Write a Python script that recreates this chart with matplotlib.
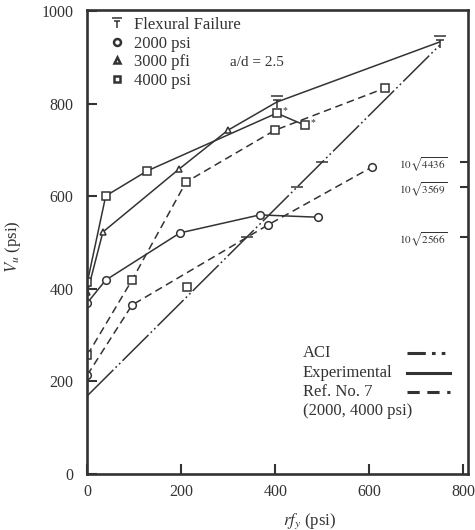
import numpy as np
import matplotlib.pyplot as plt
from matplotlib.path import Path
from matplotlib.lines import Line2D

plt.rcParams['font.family'] = ['Liberation Serif', 'DejaVu Serif']
plt.rcParams['mathtext.fontset'] = 'stix'

# experimental results (solid lines)
exp_2000_x = [0, 39, 197, 367, 490]
exp_2000_y = [370, 419, 521, 560, 555]
exp_3000_x = [0, 33, 195, 299, 403, 750]
exp_3000_y = [393, 523, 659, 743, 804, 934]
exp_4000_x = [0, 39, 127, 403, 463]
exp_4000_y = [415, 601, 655, 780, 754]

# Ref. No. 7 (dashed lines)
ref_2000_x = [0, 95, 384, 605]
ref_2000_y = [214, 365, 538, 663]
ref_4000_x = [0, 95, 210, 399, 633]
ref_4000_y = [257, 419, 631, 743, 834]
stray_x = [212]
stray_y = [404]

# ACI line and its upper limits 10*sqrt(f'c)
aci_x = [0, 750]
aci_y = [169, 927]
cap_levels = [674, 620, 512]
cap_labels = [r'$10\sqrt{4436}$', r'$10\sqrt{3569}$', r'$10\sqrt{2566}$']

# flexural failures
flex_x = [403, 750]
flex_y = [804, 934]
star_x = [403, 463]
star_y = [780, 754]

ink = '#333333'
flex_marker = Path([(-1, 1), (1, 1), (-0.7, 0.4), (0.7, 0.4), (0, 0.4), (0, -1)],
                   [Path.MOVETO, Path.LINETO, Path.MOVETO, Path.LINETO, Path.MOVETO, Path.LINETO])
aci_dash = (24, 2, 1.2, 2, 1.2, 2)
ref_dash = (5, 3)

fig = plt.figure(figsize=(4.75, 5.3), dpi=100)
ax = fig.add_axes([0.184, 0.106, 0.801, 0.875])

lw = 1.1
mk = dict(markerfacecolor='white', markeredgecolor=ink, markeredgewidth=1.1)

ax.plot(aci_x, aci_y, color=ink, lw=lw, dashes=aci_dash)
cap_x = np.interp(cap_levels, aci_y, aci_x)
ax.plot(cap_x, cap_levels, ls='none', marker='_', ms=9, mew=1.1, color=ink)

ax.plot(exp_2000_x, exp_2000_y, color=ink, lw=lw, marker='o', ms=5.5, **mk)
ax.plot(exp_3000_x, exp_3000_y, color=ink, lw=lw, marker='^', ms=5, markevery=[0, 1, 2, 3], **mk)
ax.plot(exp_4000_x, exp_4000_y, color=ink, lw=lw, marker='s', ms=5.5, **mk)

ax.plot(ref_2000_x, ref_2000_y, color=ink, lw=lw, dashes=ref_dash, marker='o', ms=5.5, **mk)
ax.plot(ref_4000_x, ref_4000_y, color=ink, lw=lw, dashes=ref_dash, marker='s', ms=5.5, **mk)
ax.plot(stray_x, stray_y, ls='none', marker='s', ms=5.5, **mk)

ax.plot(flex_x, flex_y, ls='none', marker=flex_marker, ms=8, mew=1.1, color=ink, mfc='none')
for sx, sy in zip(star_x, star_y):
    ax.annotate('*', (sx, sy), xytext=(4, 0), textcoords='offset points', fontsize=7, color=ink)

ax.text(303, 890, 'a/d = 2.5', fontsize=11, color=ink, va='center')

ax.set_xlim(0, 810)
ax.set_ylim(0, 1003)
ax.set_xticks([0, 200, 400, 600, 800])
ax.set_yticks([0, 200, 400, 600, 800, 1000])
ax.tick_params(direction='in', length=7, width=1.5, colors=ink, labelsize=11.5)
ax.tick_params(axis='y', pad=10)
ax.tick_params(axis='x', pad=7)
for s in ax.spines.values():
    s.set_linewidth(1.9)
    s.set_color(ink)

ax.set_ylabel(r'$V_u$ (psi)', fontsize=12, color=ink)
ax.yaxis.set_label_coords(-0.17, 0.49)
ax.set_xlabel(r'$rf_y$ (psi)', fontsize=12, color=ink)
ax.xaxis.set_label_coords(0.585, -0.08)

tw = ax.twinx()
tw.set_ylim(ax.get_ylim())
tw.set_yticks(cap_levels, cap_labels)
tw.tick_params(direction='in', length=6, width=1.5, colors=ink, labelsize=8, pad=-15)
for t in tw.get_yticklabels():
    t.set_horizontalalignment('right')
for s in tw.spines.values():
    s.set_visible(False)

handles = [
    Line2D([], [], ls='none', marker=flex_marker, ms=7, mew=1.1, color=ink, mfc='none'),
    Line2D([], [], ls='none', marker='o', ms=5, color=ink, mfc='white', mew=1.8),
    Line2D([], [], ls='none', marker='^', ms=5, color=ink, mfc='white', mew=1.8),
    Line2D([], [], ls='none', marker='s', ms=5, color=ink, mfc='white', mew=1.8),
]
leg = ax.legend(handles, ['Flexural Failure', '2000 psi', '3000 pfi', '4000 psi'],
                loc='upper left', bbox_to_anchor=(0.06, 0.985), frameon=False,
                fontsize=12, handlelength=0.8, handletextpad=0.6, labelspacing=0.15,
                borderpad=0, borderaxespad=0)
for t in leg.get_texts():
    t.set_color(ink)

# line key, lower right
key_names = ['ACI', 'Experimental', 'Ref. No. 7']
key_dash = [(6, 2, 1.2, 2, 1.2, 2), (None, None), (4, 2.5)]
key_y = [0.261, 0.218, 0.177]
for name, dsh, yy in zip(key_names, key_dash, key_y):
    ax.text(0.566, yy, name, transform=ax.transAxes, fontsize=12, color=ink, va='center')
    ln = Line2D([0.84, 0.953], [yy, yy], transform=ax.transAxes, color=ink, lw=2.2)
    if dsh[0] is not None:
        ln.set_dashes(dsh)
    ax.add_line(ln)
ax.text(0.566, 0.136, '(2000, 4000 psi)', transform=ax.transAxes, fontsize=12, color=ink, va='center')

fig.savefig('out.png', dpi=100)
